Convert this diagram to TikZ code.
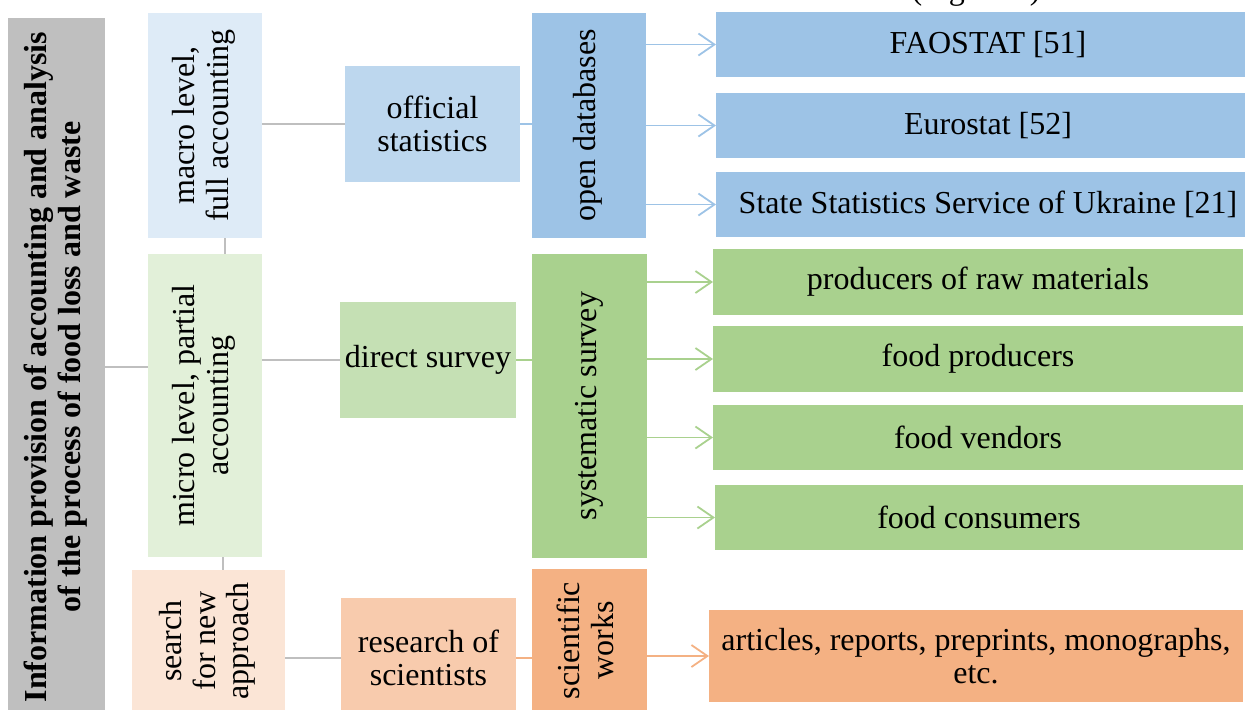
\documentclass[tikz,border=0pt]{standalone}
\usepackage{fontspec}
\setmainfont{Liberation Serif}
\usetikzlibrary{arrows.meta}
\definecolor{cRoot}{HTML}{BFBFBF}
\definecolor{cLine}{HTML}{BFBFBF}
\definecolor{cBlueA}{HTML}{DEEBF7}
\definecolor{cBlueB}{HTML}{BDD7EE}
\definecolor{cBlueC}{HTML}{9DC3E6}
\definecolor{cGreenA}{HTML}{E2F0D9}
\definecolor{cGreenB}{HTML}{C5E0B4}
\definecolor{cGreenC}{HTML}{A9D18E}
\definecolor{cOrA}{HTML}{FBE5D6}
\definecolor{cOrB}{HTML}{F8CBAD}
\definecolor{cOrC}{HTML}{F4B183}
\newcommand{\vtext}[1]{\rotatebox{90}{\begin{tabular}{@{}c@{}}#1\end{tabular}}}
\begin{document}
\begin{tikzpicture}[x=0.5pt,y=-0.5pt,
  box/.style={inner sep=0pt, outer sep=0pt, draw=none, align=center, text=black,
    font=\fontsize{16}{16.8}\selectfont},
  gline/.style={draw=cLine, line width=1pt},
  arr/.style={line width=0.9pt, -{Straight Barb[length=8pt,width=11pt,line width=0.9pt]}},
]
\useasboundingbox (0,0) rectangle (1245,709);
\clip (0,0) rectangle (1245,709);

\node[box, anchor=base] (fig) at (976,-1) {(Figure 1)};

% level 1
\node[box, fill=cRoot, minimum width=48.5pt, minimum height=349pt] (root) at (56.5,367)
  {\vtext{\bfseries Information provision of accounting and analysis\\ \bfseries of the process of food loss and waste}};

% level 2
\node[box, fill=cBlueA, minimum width=57pt, minimum height=112.5pt] (macro) at (205,125.5)
  {\vtext{macro level,\\ full accounting}};
\node[box, fill=cGreenA, minimum width=57pt, minimum height=151.5pt] (micro) at (205,405.5)
  {\vtext{micro level, partial\\ accounting}};
\node[box, fill=cOrA, minimum width=76.5pt, minimum height=71pt] (search) at (208.5,641)
  {\vtext{search\\ for new\\ approach}};

% level 3
\node[box, fill=cBlueB, minimum width=87.5pt, minimum height=58pt] (official) at (432.5,124)
  {official\\ statistics};
\node[box, fill=cGreenB, minimum width=88pt, minimum height=58pt] (direct) at (428,360)
  {direct survey};
\node[box, fill=cOrB, minimum width=87.5pt, minimum height=60pt] (research) at (428.5,658)
  {research of\\ scientists};

% level 4
\node[box, fill=cBlueC, minimum width=57pt, minimum height=112.5pt] (open) at (589,125.5)
  {\vtext{open databases}};
\node[box, fill=cGreenC, minimum width=57.5pt, minimum height=152pt] (syst) at (589.5,406)
  {\vtext{systematic survey}};
\node[box, fill=cOrC, minimum width=57.5pt, minimum height=71.5pt] (sci) at (589.5,640.5)
  {\vtext{scientific\\ works}};

% level 5
\node[box, fill=cBlueC, minimum width=272pt, minimum height=32.5pt] (fao) at (988,44.5) {FAOSTAT [51]};
\node[box, fill=cBlueC, minimum width=272pt, minimum height=32.5pt] (euro) at (988,125.5) {Eurostat [52]};
\node[box, fill=cBlueC, minimum width=272pt, minimum height=32.5pt] (ukr) at (988,204.5) {State Statistics Service of Ukraine [21]};
\node[box, fill=cGreenC, minimum width=265pt, minimum height=33pt] (raw) at (978,282) {producers of raw materials};
\node[box, fill=cGreenC, minimum width=265pt, minimum height=33pt] (fprod) at (978,359) {food producers};
\node[box, fill=cGreenC, minimum width=265pt, minimum height=32.5pt] (vend) at (978,437.5) {food vendors};
\node[box, fill=cGreenC, minimum width=264pt, minimum height=32.5pt] (cons) at (979,517.5) {food consumers};
\node[box, fill=cOrC, minimum width=267pt, minimum height=46pt] (art) at (976,656)
  {articles, reports, preprints, monographs,\\ etc.};

% gray connectors
\draw[gline] (root.east) -- (root.east -| micro.west);
\draw[gline] ([xshift=10pt]macro.south) -- ([xshift=10pt]micro.north);
\draw[gline] ([xshift=9pt]micro.south) -- ([xshift=9pt]micro.south |- search.north);
\draw[gline] (macro.east |- official.west) -- (official.west);
\draw[gline] (micro.east |- direct.west) -- (direct.west);
\draw[gline] (search.east |- research.west) -- (research.west);

% coloured connectors
\draw[draw=cBlueC, line width=1pt] (official.east) -- (official.east -| open.west);
\draw[draw=cGreenC, line width=1pt] (direct.east) -- (direct.east -| syst.west);
\draw[draw=cOrC, line width=1pt] (research.east) -- (research.east -| sci.west);

\draw[arr, draw=cBlueC] (open.east |- fao.west) -- (fao.west);
\draw[arr, draw=cBlueC] (open.east |- euro.west) -- (euro.west);
\draw[arr, draw=cBlueC] (open.east |- ukr.west) -- (ukr.west);
\draw[arr, draw=cGreenC] (syst.east |- raw.west) -- (raw.west);
\draw[arr, draw=cGreenC] (syst.east |- fprod.west) -- (fprod.west);
\draw[arr, draw=cGreenC] (syst.east |- vend.west) -- (vend.west);
\draw[arr, draw=cGreenC] (syst.east |- cons.west) -- (cons.west);
\draw[arr, draw=cOrC] (sci.east |- art.west) -- (art.west);
\end{tikzpicture}
\end{document}
